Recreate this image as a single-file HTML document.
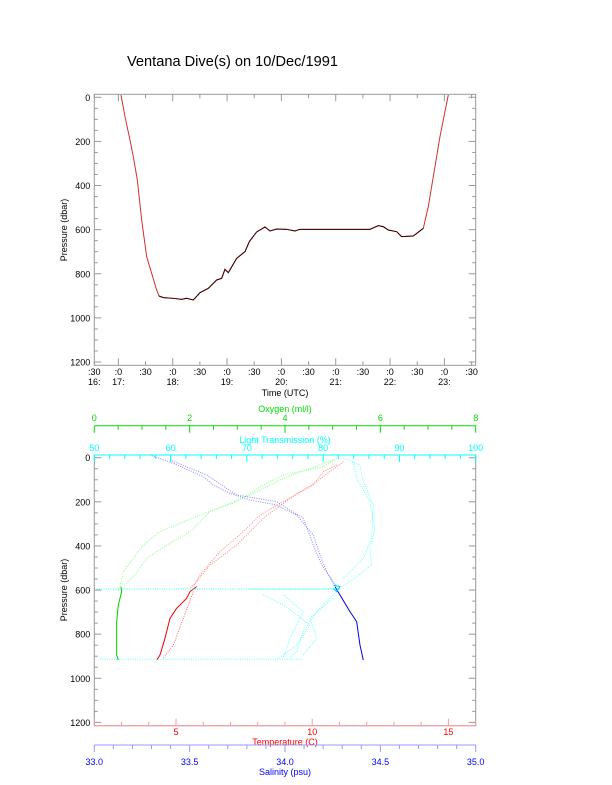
<!DOCTYPE html>
<html><head><meta charset="utf-8"><style>
html,body{margin:0;padding:0;background:#fff;}
svg{display:block;font-family:"Liberation Sans",sans-serif;}
</style></head><body>
<svg id="s" width="612" height="785" viewBox="0 0 612 785" xmlns="http://www.w3.org/2000/svg">
<rect width="612" height="785" fill="#fff"/>
<text x="127" y="66" font-size="14.6" fill="#000">Ventana Dive(s) on 10/Dec/1991</text>
<g transform="translate(50,80) scale(0.3333)">
<polyline fill="none" stroke="#d03030" stroke-width="3" points="213,45 225,110 240,180 250,230 262,300 275,420 290,530 305,580 320,630 327,648 340,653 370,655 395,658 410,655 430,660 450,638 475,625 500,600 515,595 525,568 535,578 560,535 585,515 598,485 620,456 645,441 660,453 680,447 710,448 735,453 750,448 800,448 900,448 960,448 985,437 1000,440 1015,450 1040,455 1055,470 1090,468 1120,445 1135,380 1150,290 1170,170 1195,45"/>
<polyline fill="none" stroke="#300" stroke-width="3" points="327,648 340,653 370,655 395,658 410,655 430,660 450,638 475,625 500,600 515,595 525,568 535,578 560,535 585,515 598,485 620,456 645,441 660,453 680,447 710,448 735,453 750,448 800,448 900,448 960,448 985,437 1000,440 1015,450 1040,455 1055,470 1090,468 1120,445"/>
</g>
<g transform="translate(50,405) scale(0.3333)" fill="none" stroke-width="3" stroke-dasharray="3 4">
<polyline stroke="#8f8" points="860,160 820,185 700,210 640,240 560,290 450,330 330,380 280,420 250,460 220,500 210,545 205,560"/>
<polyline stroke="#8f8" points="850,165 700,220 600,270 480,320 420,380 350,420 290,460 255,510 220,545"/>
<polyline stroke="#0c0" stroke-dasharray="none" points="213,545 215,560 205,600 200,650 200,750 205,765"/>
<polyline stroke="#f88" points="860,180 820,200 790,240 700,290 630,330 580,380 510,440 450,510 430,545"/>
<polyline stroke="#f88" points="880,170 800,230 720,280 640,340 560,420 480,480 440,530 420,550"/>
<polyline stroke="#e00" stroke-dasharray="none" points="440,545 420,560 410,580 380,610 360,640 345,700 330,750 320,765"/>
<polyline stroke="#f66" points="430,560 400,640 370,720 340,760"/>
<polyline stroke="#88f" points="305,152 370,175 460,215 490,240 540,265 600,285 680,300 740,330 790,390 810,450 830,500 855,545"/>
<polyline stroke="#88f" points="360,165 470,210 560,270 680,290 760,340 790,420 815,480 860,545"/>
<polyline stroke="#00e" stroke-dasharray="none" points="855,545 870,570 900,620 920,650 930,720 940,765"/>
<polyline stroke="#6ff" points="910,170 920,220 960,290 975,370 960,430 965,480 900,530 870,548"/>
<polyline stroke="#6ff" points="880,160 930,180 940,230 970,300 965,400 940,460 880,520"/>
<polyline stroke="#3ff" points="140,552 870,552"/>
<polyline stroke="#3ff" stroke-dasharray="2 2" points="600,552 870,552"/>
<polyline stroke="#6ff" points="150,763 760,763"/>
<polyline stroke="#6ff" points="860,560 800,620 760,680 740,740 720,760"/>
<polyline stroke="#6ff" points="850,580 780,640 800,700 760,750"/>
<polyline stroke="#6ff" points="700,570 760,620 720,700 700,760"/>
<polyline stroke="#6ff" points="640,570 700,600 780,660 740,720 680,765"/>
<polyline stroke="#0cf" stroke-dasharray="none" points="850,540 870,545 860,560 850,550"/>
</g>
</svg>
<script>
var s=document.getElementById('s'),NS='http://www.w3.org/2000/svg';
function el(t,a,txt){var e=document.createElementNS(NS,t);for(var k in a)e.setAttribute(k,a[k]);if(txt!=null)e.textContent=txt;s.appendChild(e);return e;}
function ln(x1,y1,x2,y2,c){el('line',{x1:x1,y1:y1,x2:x2,y2:y2,stroke:c,'stroke-width':1});}
function tx(x,y,t,c,anc,sz,rot){var a={x:x,y:y,fill:c,'font-size':sz||9,'text-anchor':anc||'middle'};if(rot)a.transform='rotate(-90 '+x+' '+y+')';el('text',a,t);}
var L=94.3,R=475.7;
el('rect',{x:L,y:94.3,width:R-L,height:271,fill:'none',stroke:'#999','stroke-width':1});
function py(p,top){return top+p*(264.7/1200);}
for(var p=0;p<=1200;p+=50){var y=py(p,97.3);var len=(p%200==0)?7:3.5;ln(L,y,L+len,y,'#999');ln(R,y,R-len,y,'#999');if(p%200==0)tx(L-4,y+3.5,String(p),'#000','end',9);}
tx(67,230,'Pressure (dbar)','#000','middle',9,true);
for(var i=0;i<=14;i++){var x=91.2+i*27.17;if(x<L)x=L;var len=(i%2==1)?7:4;ln(x,365.3,x,365.3-len,'#999');ln(x,94.3,x,94.3+len,'#999');
var h=16+Math.floor((i+1)/2);tx(x,375,(i%2==0)?':30':':0','#000','middle',9);if(i%2==1||i==0)tx(x,385,h+':','#000','middle',9);}
tx(285,396,'Time (UTC)','#000','middle',9);
el('rect',{x:L,y:455,width:R-L,height:270.7,fill:'none',stroke:'#999','stroke-width':1});
ln(L,455,R,455,'#0ff');ln(L,725.7,R,725.7,'#f99');
for(var p=0;p<=1200;p+=50){var y=py(p,457.7);var len=(p%200==0)?7:3.5;ln(L,y,L+len,y,'#999');ln(R,y,R-len,y,'#999');if(p%200==0)tx(L-4,y+3.5,String(p),'#000','end',9);}
tx(67,590,'Pressure (dbar)','#000','middle',9,true);
ln(L,425.7,R,425.7,'#0d0');
for(var o=0;o<=8;o+=0.5){var x=L+o*(R-L)/8;ln(x,425.7,x,425.7+((o%2==0)?7:4),'#0d0');if(o%2==0)tx(x,421,String(o),'#0d0');}
tx(285,412,'Oxygen (ml/l)','#0d0');
for(var t=50;t<=100;t+=2){var x=L+(t-50)*(R-L)/50;ln(x,455,x,455+((t%10==0)?7:4),'#0ff');if(t%10==0)tx(x,451,String(t),'#0ff');}
tx(285,443,'Light Transmission (%)','#0ff');
for(var T=2;T<=16;T++){var x=L+(T-2)*27.24;if(x>R)break;ln(x,725.7,x,725.7-((T%5==0)?7:4),'#f99');if(T%5==0)tx(x,735,String(T),'#f00');}
tx(285,745,'Temperature (C)','#f00');
ln(L,745,R,745,'#99f');
for(var k=0;k<=20;k++){var x=L+k*(R-L)/20;ln(x,745,x,745+((k%5==0)?7:4),'#99f');if(k%5==0)tx(x,765,(33+k*0.1).toFixed(1),'#00f');}
tx(285,775,'Salinity (psu)','#00f');
</script>
</body></html>
